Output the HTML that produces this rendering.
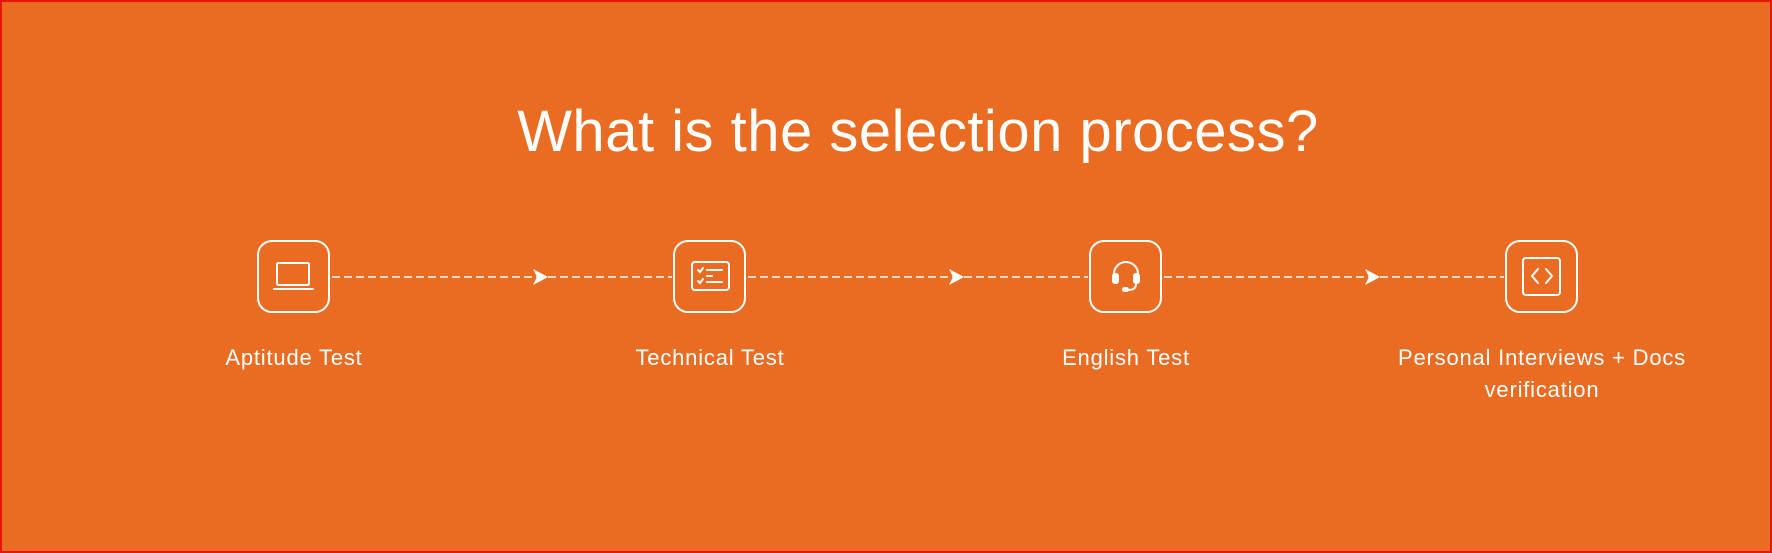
<!DOCTYPE html>
<html><head><style>
html,body{margin:0;padding:0}
body{width:1772px;height:553px;background:#E96C22;position:relative;overflow:hidden;font-family:"Liberation Sans",sans-serif;color:#fff}
.frame{position:absolute;left:0;top:0;width:1768px;height:549px;border:2px solid #E8150E}
h1{position:absolute;left:0;width:1836px;top:96px;margin:0;text-align:center;font-weight:normal;font-size:58px;line-height:72px;letter-spacing:0.5px}
.box{position:absolute;top:240px;width:69px;height:69px;border:2.5px solid #fff;border-radius:15px}
.lbl{position:absolute;width:400px;text-align:center;font-size:22px;line-height:32px;top:342px;letter-spacing:0.8px}
svg{position:absolute;left:0;top:0}
</style></head><body>
<div class="frame"></div>
<h1>What is the selection process?</h1>
<svg width="1772" height="553">
<g stroke="#fff" stroke-width="1.6" stroke-dasharray="8,4" fill="none">
<line x1="332" y1="277" x2="672" y2="277"/>
<line x1="748" y1="277" x2="1088" y2="277"/>
<line x1="1164" y1="277" x2="1504" y2="277"/>
</g>
<g fill="#fff">
<path d="M533 269 L548 277 L533 285 L537 277 Z"/>
<path d="M949 269 L964 277 L949 285 L953 277 Z"/>
<path d="M1365 269 L1380 277 L1365 285 L1369 277 Z"/>
</g>
<g stroke="#fff" stroke-width="2" fill="none" stroke-linecap="round">
<rect x="277" y="263" width="32" height="22" rx="1.5"/>
<line x1="274" y1="289" x2="313" y2="289"/>
<rect x="692" y="262" width="37" height="28" rx="3"/>
<path d="M698 270 l2 2 l3 -4 M698 281 l2 2 l3 -4"/>
<line x1="707" y1="270" x2="722" y2="270"/>
<line x1="707" y1="276" x2="712" y2="276"/>
<line x1="707" y1="282" x2="722" y2="282"/>
<path d="M1114 280 v-6 a12 12 0 0 1 24 0 v6"/>
<rect x="1113" y="274" width="5" height="9" rx="2" fill="#fff"/>
<rect x="1134" y="274" width="5" height="9" rx="2" fill="#fff"/>
<path d="M1136 284 q0 6 -8 6"/>
<rect x="1123" y="288" width="5" height="3" rx="1.5" fill="#fff"/>
<rect x="1523" y="258" width="37" height="37" rx="3"/>
<path d="M1538 269 l-6 7 l6 7 M1546 269 l6 7 l-6 7"/>
</g>
</svg>
<div class="box" style="left:257px"></div>
<div class="box" style="left:673px"></div>
<div class="box" style="left:1089px"></div>
<div class="box" style="left:1505px"></div>
<div class="lbl" style="left:94px">Aptitude Test</div>
<div class="lbl" style="left:510px">Technical Test</div>
<div class="lbl" style="left:926px">English Test</div>
<div class="lbl" style="left:1342px">Personal Interviews + Docs<br>verification</div>
</body></html>
